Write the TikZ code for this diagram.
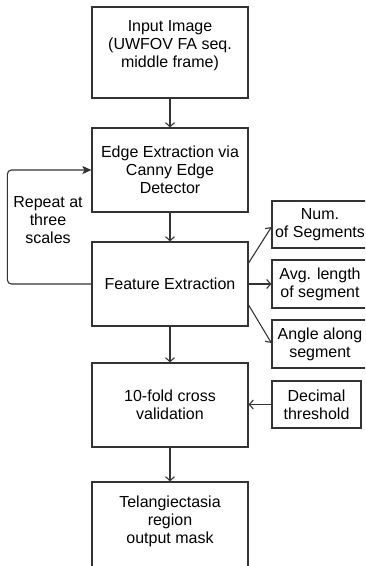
\documentclass[tikz,border=0pt]{standalone}
\usepackage{fontspec}
\setmainfont{Liberation Sans}
\usetikzlibrary{arrows.meta}
\definecolor{linegray}{HTML}{333333}
\begin{document}
\begin{tikzpicture}[x=1pt,y=-1pt,
    font=\fontsize{16}{18}\selectfont,
    stage/.style={draw=linegray,line width=1.2pt,minimum width=156pt,minimum height=84pt,
      inner sep=0pt,align=center},
    feat/.style={draw=linegray,line width=1.2pt,minimum width=96pt,minimum height=47pt,
      inner sep=0pt,align=center},
    flow/.style={draw=linegray,line width=1.1pt,-{Straight Barb[length=4pt,width=9pt]}},
    back/.style={draw=linegray,line width=1.1pt,rounded corners=4pt,
      -{Stealth[length=9pt,width=8pt,inset=2pt]}}]
  \useasboundingbox (0,0) rectangle (365,566);
  \clip (0,0) rectangle (365,566);
  \node[stage,minimum height=91pt] (input) at (170,52.5) {Input Image\\(UWFOV FA seq.\\middle frame)\\\mbox{}};
  \node[stage] (edge) at (170,170) {Edge Extraction via\\Canny Edge\\Detector};
  \node[stage] (feature) at (170,284) {Feature Extraction};
  \node[stage] (cross) at (170,405) {10-fold cross\\validation};
  \node[stage,minimum height=94pt] (mask) at (170,529) {Telangiectasia\\region\\output mask\\\mbox{}};
  \node[feat] (numseg) at (320,224.5) {Num.\\of Segments};
  \node[feat,minimum height=48pt] (avglen) at (320,284) {Avg. length\\of segment};
  \node[feat,minimum height=48pt] (angle) at (320,344) {Angle along\\segment};
  \node[feat,minimum width=89pt] (thresh) at (316.5,404.5) {Decimal\\threshold};
  \node[align=center] (repeat) at (48,220) {Repeat at\\three\\scales};
  \begin{scope}
    \draw[flow] (input) -- (edge);
    \draw[flow] (edge) -- (feature);
    \draw[flow] (feature) -- (cross);
    \draw[flow] (cross) -- (mask);
    \draw[flow] ([yshift=21pt]feature.east) -- ([yshift=-2.5pt]numseg.west);
    \draw[flow] (feature.east) -- (avglen.west);
    \draw[flow] ([yshift=-21pt]feature.east) -- ([yshift=1pt]angle.west);
    \draw[flow] (thresh.west) -- (thresh.west -| cross.east);
    \draw[back] (feature.west) -- ++(-84,0) |- (edge.west);
  \end{scope}
\end{tikzpicture}
\end{document}
